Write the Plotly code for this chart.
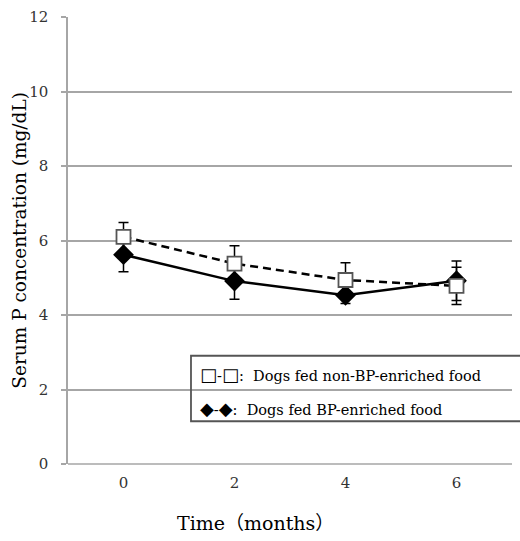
import plotly.graph_objects as go

months = [0, 2, 4, 6]
non_bp_mean = [6.1, 5.38, 4.94, 4.78]
non_bp_err = [0.38, 0.48, 0.46, 0.5]
bp_mean = [5.62, 4.91, 4.53, 4.92]
bp_err = [0.46, 0.49, 0.22, 0.53]
y_ticks = [0, 2, 4, 6, 8, 10, 12]
legend_labels = ["Dogs fed non-BP-enriched food", "Dogs fed BP-enriched food"]
legend_symbols = ["□", "◆"]

SERIF = "DejaVu Serif, Noto Sans CJK JP, serif"

fig = go.Figure()
fig.add_trace(go.Scatter(
    x=months, y=bp_mean, mode="lines+markers",
    line=dict(color="black", width=2.5),
    marker=dict(symbol="diamond", size=16, color="black"),
    error_y=dict(type="data", array=bp_err, color="black", thickness=1.5, width=5),
    showlegend=False, cliponaxis=False))
fig.add_trace(go.Scatter(
    x=months, y=non_bp_mean, mode="lines+markers",
    line=dict(color="black", width=2.5, dash="8px,5px"),
    marker=dict(symbol="square", size=14, color="white", line=dict(color="#555", width=1.8)),
    error_y=dict(type="data", array=non_bp_err, color="black", thickness=1.5, width=5),
    showlegend=False, cliponaxis=False))


def sym(s):
    return f'<span style="font-family:DejaVu Sans;font-size:18px">{s}</span>'


fig.update_layout(
    width=520, height=541,
    margin=dict(l=68, r=8, t=14, b=77),
    paper_bgcolor="white", plot_bgcolor="white",
    font=dict(family=SERIF, color="#333", size=15),
    xaxis=dict(range=[-1, 7], tickvals=months, ticktext=[str(m) for m in months],
               showgrid=False, zeroline=False, showline=False, ticks="",
               ticklabelstandoff=8,
               tickfont=dict(family=SERIF, size=15, color="#333")),
    yaxis=dict(range=[0, 12], tickvals=y_ticks, showgrid=True, gridcolor="#a6a6a6", gridwidth=1.5,
               zeroline=False, showline=True, linecolor="#a6a6a6", linewidth=1.5,
               ticks="outside", ticklen=5, tickcolor="#a6a6a6", tickwidth=1.5,
               ticklabelstandoff=10, tickfont=dict(family=SERIF, size=15, color="#333")),
    shapes=[
        dict(type="line", xref="paper", yref="paper", x0=0, x1=1, y0=0, y1=0,
             line=dict(color="#a6a6a6", width=1.5)),
        dict(type="rect", xref="paper", yref="paper", x0=0.277, x1=1.03, y0=0.0956, y1=0.2422,
             line=dict(color="#555", width=1.8), fillcolor="rgba(0,0,0,0)"),
    ],
    annotations=[
        dict(text=f"{sym(legend_symbols[0])}-{sym(legend_symbols[0])}:&nbsp; {legend_labels[0]}",
             xref="paper", yref="paper", x=0.292, y=0.2,
             xanchor="left", yanchor="middle", showarrow=False,
             font=dict(family=SERIF, size=14.5, color="black")),
        dict(text=f"{sym(legend_symbols[1])}-{sym(legend_symbols[1])}:&nbsp; {legend_labels[1]}",
             xref="paper", yref="paper", x=0.292, y=0.1244,
             xanchor="left", yanchor="middle", showarrow=False,
             font=dict(family=SERIF, size=14.5, color="black")),
        dict(text="Serum P concentration (mg/dL)", xref="paper", yref="paper",
             x=-0.11, y=0.5, xanchor="center", yanchor="middle", textangle=-90, showarrow=False,
             font=dict(family=SERIF, size=18.5, color="black")),
        dict(text="Time（months）", xref="paper", yref="paper",
             x=(255 - 68) / 444, y=(464 - 523) / 450, xanchor="center", yanchor="middle",
             showarrow=False, font=dict(family=SERIF, size=19, color="black")),
    ],
)

fig.write_html("out.html", config={"displayModeBar": False},
               post_script="document.body.style.margin='0';")
